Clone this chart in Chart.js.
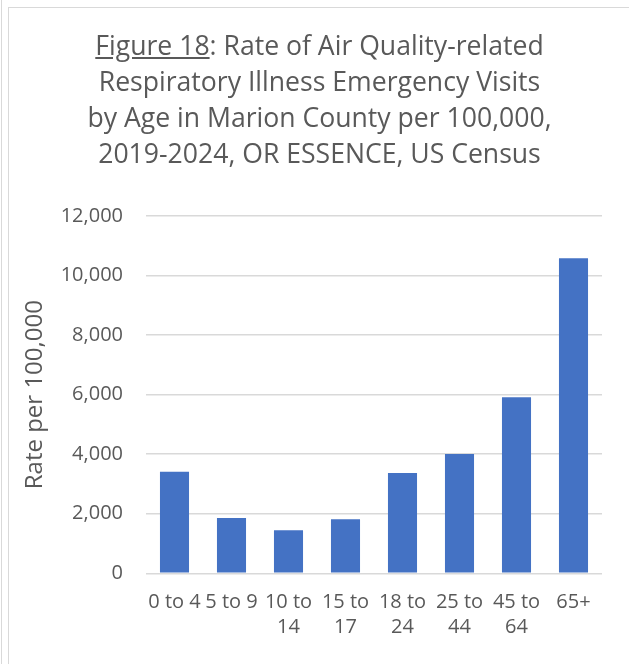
<!DOCTYPE html>
<html>
<head>
<meta charset="utf-8">
<script src="https://cdn.jsdelivr.net/npm/chart.js@4/dist/chart.umd.min.js"></script>
<style>
    html, body { margin: 0; padding: 0; background: #fff; }
    #wrap { position: relative; width: 629px; height: 664px; overflow: hidden; }
    #chart { position: absolute; left: 0; top: 0; }
    .edge { position: absolute; background: #d9d9d9; }
    #title {
        position: absolute; left: 0; top: 27px; width: 639px;
        text-align: center; white-space: nowrap;
        font-family: "Open Sans", sans-serif; font-size: 26.6px; line-height: 36px;
        color: #595959;
    }
</style>
</head>
<body>
<div id="wrap">
    <canvas id="chart" width="629" height="664"></canvas>
    <div class="edge" style="left:1px; top:0; width:1px; height:664px;"></div>
    <div class="edge" style="left:8px; top:7px; width:1px; height:657px;"></div>
    <div class="edge" style="left:8px; top:7px; width:621px; height:1px;"></div>
    <div id="title"><u>Figure 18</u>: Rate of Air Quality-related<br>Respiratory Illness Emergency Visits<br>by Age in Marion County per 100,000,<br>2019-2024, OR ESSENCE, US Census</div>
</div>
<script>
// age groups (multi-line tick labels as in the original)
const ageGroups = [
    ['0 to 4'], ['5 to 9'], ['10 to', '14'], ['15 to', '17'],
    ['18 to', '24'], ['25 to', '44'], ['45 to', '64'], ['65+']
];
// rate per 100,000
const ratePer100k = [3410, 1860, 1445, 1815, 3370, 4005, 5910, 10580];
const yTicks = [0, 2000, 4000, 6000, 8000, 10000, 12000];

const textColor = '#595959';
const gridColor = '#d9d9d9';

const ctx = document.getElementById('chart').getContext('2d');
new Chart(ctx, {
    type: 'bar',
    data: {
        labels: ageGroups,
        datasets: [{
            label: 'Rate per 100,000',
            data: ratePer100k,
            backgroundColor: '#4472C4',
            barPercentage: 0.51,
            categoryPercentage: 1.0
        }]
    },
    options: {
        responsive: false,
        animation: false,
        layout: { padding: { left: 0, right: 27, top: 216, bottom: 0 } },
        plugins: {
            legend: { display: false },
            title: { display: false },
            tooltip: { enabled: false }
        },
        scales: {
            x: {
                grid: { display: false, drawTicks: false },
                border: { display: false },
                ticks: {
                    color: textColor,
                    font: { family: 'Open Sans', size: 20, lineHeight: 1.25 },
                    padding: 16,
                    maxRotation: 0,
                    autoSkip: false
                },
                afterFit: scale => { scale.height = 90.7; }
            },
            y: {
                min: 0,
                max: 12000,
                afterBuildTicks: scale => { scale.ticks = yTicks.map(v => ({ value: v })); },
                grid: { color: gridColor, lineWidth: 1.5, drawTicks: false },
                border: { display: false },
                ticks: {
                    color: textColor,
                    font: { family: 'Open Sans', size: 20 },
                    padding: 23,
                    callback: v => v.toLocaleString('en-US')
                },
                title: {
                    display: true,
                    text: 'Rate per 100,000',
                    color: textColor,
                    font: { family: 'Open Sans', size: 24 },
                    padding: { top: 21, bottom: 0 }
                },
                afterFit: scale => { scale.width = 146; }
            }
        }
    }
});
</script>
</body>
</html>
